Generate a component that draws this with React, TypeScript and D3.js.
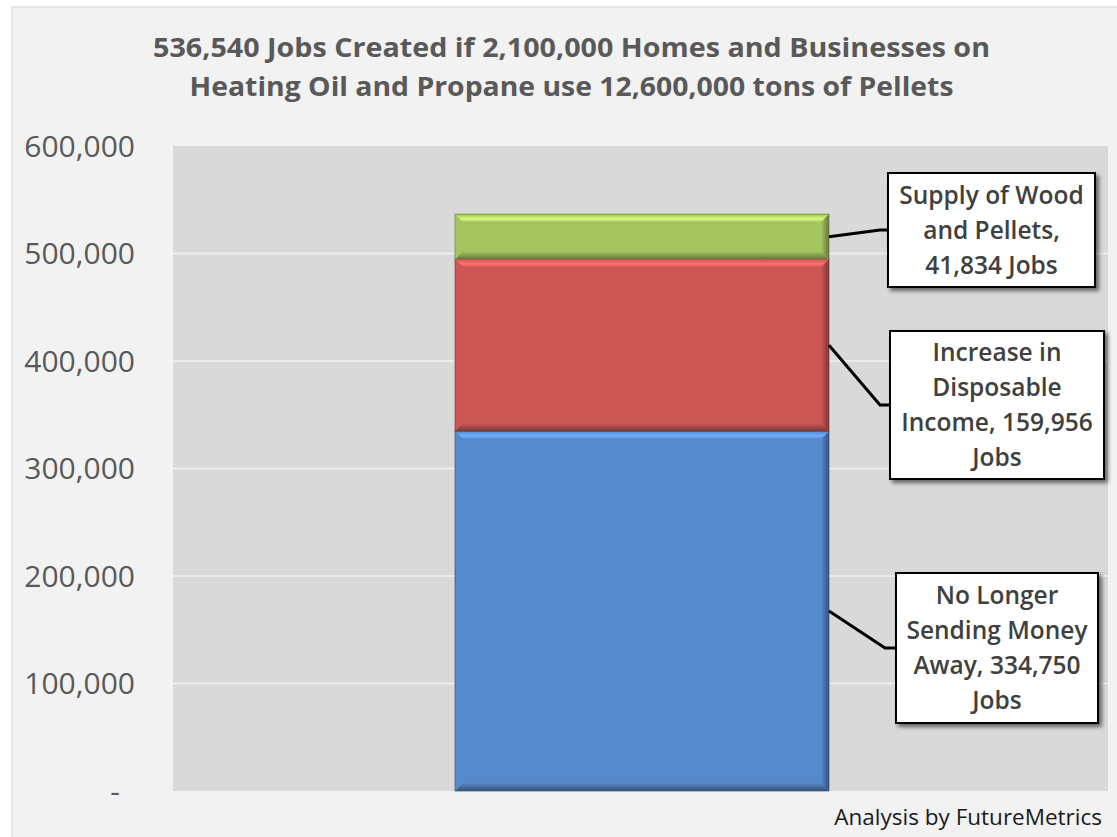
import React from "react";
import * as d3 from "d3";

const categories = ["Jobs"];
const seriesNames = ["No Longer Sending Money Away", "Increase in Disposable Income", "Supply of Wood and Pellets"];
const seriesValues = [334750, 159956, 41834];
const seriesColors = ["#5689CA", "#CD5755", "#A5C460"];
const labelLines = [
  ["No Longer", "Sending Money", "Away, 334,750", "Jobs"],
  ["Increase in", "Disposable", "Income, 159,956", "Jobs"],
  ["Supply of Wood", "and Pellets,", "41,834 Jobs"],
];
const yTicks = [0, 100000, 200000, 300000, 400000, 500000, 600000];
const titleLines = [
  "536,540 Jobs Created if 2,100,000 Homes and Businesses on",
  "Heating Oil and Propane use 12,600,000 tons of Pellets",
];
const footer = "Analysis by FutureMetrics";

// layout (pixels)
const W = 1117, H = 837;
const plot = { left: 173, right: 1108, top: 146, bottom: 791 };
const boxes = [
  { x: 896, y: 573, w: 202, h: 150, lineX: 885, lineY: 648 },
  { x: 890, y: 331, w: 214, h: 148, lineX: 880, lineY: 405 },
  { x: 888, y: 173, w: 207, h: 114, lineX: 880, lineY: 230 },
];

export default function App() {
  const y = d3.scaleLinear().domain([0, 600000]).range([plot.bottom, plot.top]);
  const x = d3.scaleBand().domain(categories).range([plot.left, plot.right]).paddingInner(0.6).paddingOuter(0.3);
  const stacked = d3.stack().keys(seriesNames)([
    Object.fromEntries(seriesNames.map((n, i) => [n, seriesValues[i]])),
  ]);
  const fmt = d3.format(",");
  const x0 = x(categories[0])! + 1.5;
  const x1 = x0 + x.bandwidth();
  const b = 8;

  return (
    <svg width={W} height={H} style={{ position: "absolute", left: 0, top: 0, display: "block" }}
      fontFamily="'Open Sans', sans-serif">
      <defs>
        <filter id="shadow" x="-10%" y="-10%" width="130%" height="130%">
          <feDropShadow dx="3" dy="3" stdDeviation="2" floodColor="#000" floodOpacity="0.55" />
        </filter>
        {seriesColors.map((c, i) => {
          const light = d3.color(c)!.brighter(0.7).formatHex();
          const dark = d3.color(c)!.darker(1.4).formatHex();
          return (
            <React.Fragment key={i}>
              <linearGradient id={`top${i}`} x1="0" y1="0" x2="0" y2="1">
                <stop offset="0" stopColor={c} />
                <stop offset="0.6" stopColor={light} />
                <stop offset="1" stopColor={c} />
              </linearGradient>
              <linearGradient id={`bot${i}`} x1="0" y1="0" x2="0" y2="1">
                <stop offset="0" stopColor={c} />
                <stop offset="1" stopColor={dark} />
              </linearGradient>
              <linearGradient id={`right${i}`} x1="0" y1="0" x2="1" y2="0">
                <stop offset="0" stopColor={c} />
                <stop offset="1" stopColor={dark} />
              </linearGradient>
            </React.Fragment>
          );
        })}
      </defs>
      <rect x={0} y={0} width={W} height={H} fill="#ffffff" />
      <rect x={12} y={7} width={W} height={H} fill="#f2f2f2" stroke="#d0d0d0" strokeWidth={1} />
      {titleLines.map((t, i) => (
        <text key={i} x={571.5} y={57 + i * 39} textAnchor="middle" fontSize={27.5} fontWeight={700} fill="#595959"
          textLength={i === 0 ? 837 : 764} lengthAdjust="spacingAndGlyphs">{t}</text>
      ))}
      <rect x={plot.left} y={plot.top} width={plot.right - plot.left} height={plot.bottom - plot.top} fill="#d9d9d9" />
      {yTicks.filter((t) => t > 0 && t < 600000).map((t) => (
        <line key={t} x1={plot.left} x2={plot.right} y1={y(t)} y2={y(t)} stroke="#f2f2f2" strokeWidth={1.5} />
      ))}
      {yTicks.map((t) => (
        <text key={t} x={t === 0 ? 120 : 135} y={y(t)} dy="0.36em" textAnchor="end" fontSize={30} fill="#595959">
          {t === 0 ? "-" : fmt(t)}
        </text>
      ))}
      {stacked.map((s, i) => {
        const yt = y(s[0][1]);
        const yb = y(s[0][0]);
        const c = seriesColors[i];
        const bb = Math.min(b, (yb - yt) / 2);
        return (
          <g key={i}>
            <rect x={x0} y={yt} width={x1 - x0} height={yb - yt} fill={c} />
            <polygon points={`${x0},${yt} ${x1},${yt} ${x1 - bb},${yt + bb} ${x0 + bb},${yt + bb}`} fill={`url(#top${i})`} />
            <polygon points={`${x0},${yb} ${x1},${yb} ${x1 - bb},${yb - bb} ${x0 + bb},${yb - bb}`} fill={`url(#bot${i})`} />
            <polygon points={`${x1},${yt} ${x1 - bb},${yt + bb} ${x1 - bb},${yb - bb} ${x1},${yb}`} fill={`url(#right${i})`} />
            <polygon points={`${x0},${yt} ${x0 + bb},${yt + bb} ${x0 + bb},${yb - bb} ${x0},${yb}`} fill={c} opacity={0.9} />
            <rect x={x0} y={yt} width={x1 - x0} height={yb - yt} fill="none" stroke={d3.color(c)!.darker(1.2).formatHex()} strokeWidth={1} strokeOpacity={0.7} />
          </g>
        );
      })}
      {stacked.map((s, i) => {
        const bx = boxes[i];
        const ym = y((s[0][0] + s[0][1]) / 2);
        return (
          <g key={i}>
            <polyline points={`${x1},${ym} ${bx.lineX},${bx.lineY} ${bx.x},${bx.lineY}`} fill="none" stroke="#000" strokeWidth={3} />
            <rect x={bx.x} y={bx.y} width={bx.w} height={bx.h} fill="#ffffff" stroke="#000" strokeWidth={2} filter="url(#shadow)" />
            {labelLines[i].map((ln, j) => {
              const n = labelLines[i].length;
              const cy = bx.y + bx.h / 2 + (j - (n - 1) / 2) * 35;
              return (
                <text key={j} x={bx.x + bx.w / 2} y={cy} dy="0.36em" textAnchor="middle" fontSize={24.5} fontWeight={600} fill="#404040">
                  {ln}
                </text>
              );
            })}
          </g>
        );
      })}
      <text x={1102} y={825} textAnchor="end" fontSize={22.5} fill="#1a1a1a">{footer}</text>
    </svg>
  );
}
